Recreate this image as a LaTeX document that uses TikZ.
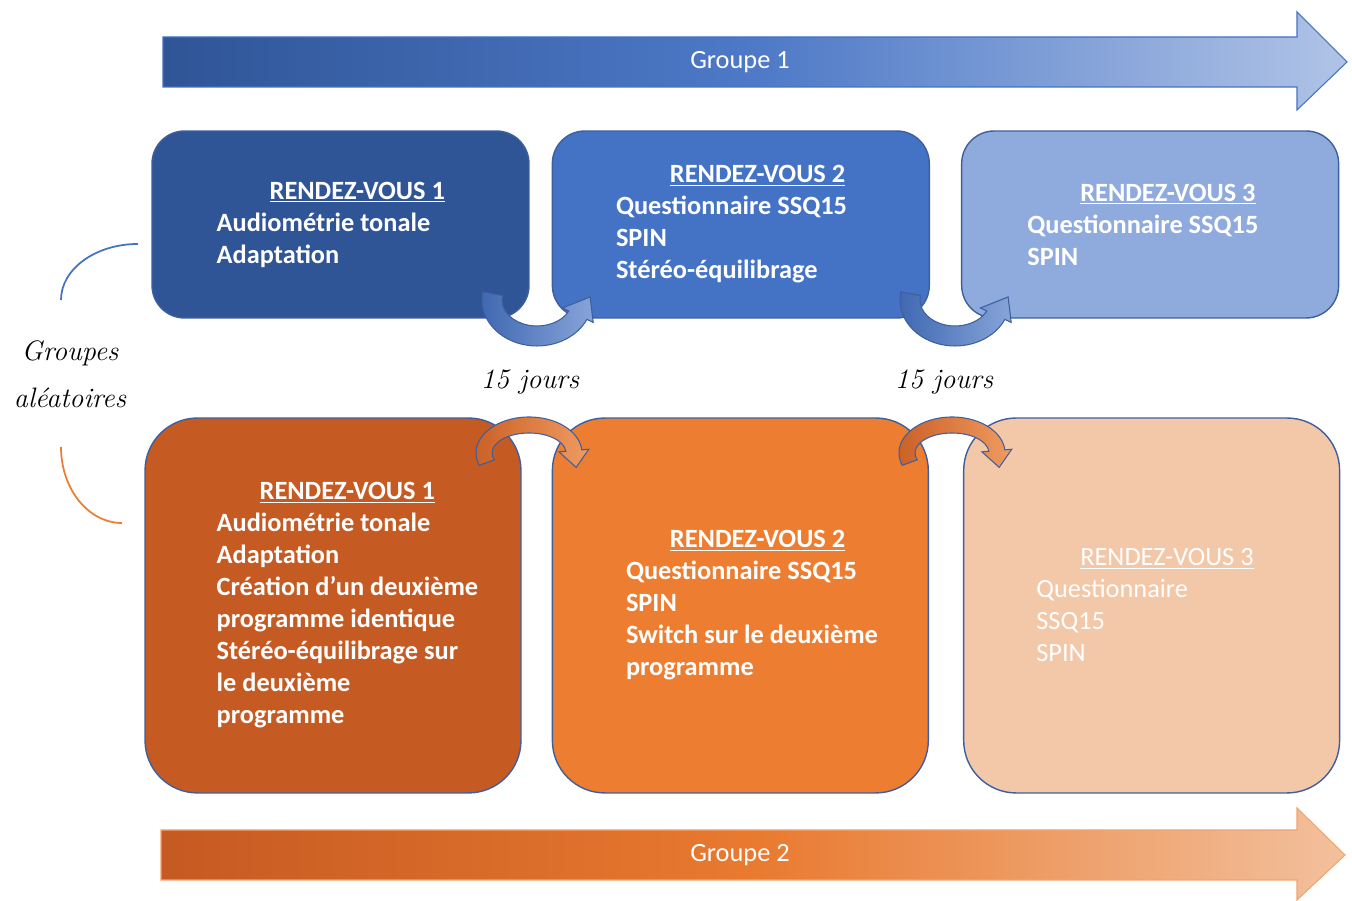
\documentclass[tikz,border=0pt]{standalone}
\usepackage{fontspec}
\newfontfamily\calib{Carlito}
\usetikzlibrary{positioning,calc}
\definecolor{bleu1}{HTML}{2F5597}
\definecolor{bleu2}{HTML}{4472C4}
\definecolor{bleu3}{HTML}{8FAADC}
\definecolor{orange1}{HTML}{C55A22}
\definecolor{orange2}{HTML}{ED7D31}
\definecolor{orange3}{HTML}{F3C8A9}
\definecolor{rdvline}{HTML}{3E5F9E}
\tikzstyle{rdv} = [draw=rdvline, line width=0.8pt]
\tikzstyle{rdvhaut} = [rdv, rounded corners=0.65cm, minimum width=7.54cm, minimum height=3.74cm]
\tikzstyle{rdvbas} = [rdv, rounded corners=1.05cm, minimum width=7.52cm, minimum height=7.5cm]
\tikzstyle{txt} = [text=white, align=left, inner sep=0pt, anchor=west, font=\calib\bfseries\fontsize{15}{18.2}\selectfont]
\tikzstyle{txtfin} = [txt, font=\calib\fontsize{15}{18.2}\selectfont]
\tikzstyle{grp} = [text=white, inner sep=0pt, font=\calib\fontsize{15}{18}\selectfont]
\tikzstyle{jours} = [inner sep=0pt, font=\itshape\addfontfeatures{Numbers=OldStyle}\fontsize{16}{20}\selectfont]
\tikzstyle{fleche1} = [draw=rdvline, line width=0.6pt, left color=bleu2!90!black, right color=bleu3!90!bleu2]
\tikzstyle{fleche2} = [draw=rdvline, line width=0.6pt, left color=orange1!90!orange2, right color=orange2!60!orange3]
\newcommand{\jourarrow}[9]{%
  \pgfmathsetmacro{\rxo}{#4+#6}\pgfmathsetmacro{\ryo}{#5+#6}%
  \pgfmathsetmacro{\rxi}{#4-#6}\pgfmathsetmacro{\ryi}{#5-#6}%
  \pgfmathsetmacro{\rxh}{#4+#6+7}\pgfmathsetmacro{\ryh}{#5+#6+7}%
  \pgfmathsetmacro{\rxk}{#4-#6-7}\pgfmathsetmacro{\ryk}{#5-#6-7}%
  \path[#9] ($(#1)+(#2:{\rxo} and {\ryo})$)
    arc[start angle=#2, end angle=#3, x radius=\rxo, y radius=\ryo]
    -- ($(#1)+(#3:{\rxh} and {\ryh})$)
    -- ($(#1)+(#3:{#4} and {#5})+(#7:#8)$)
    -- ($(#1)+(#3:{\rxk} and {\ryk})$)
    -- ($(#1)+(#3:{\rxi} and {\ryi})$)
    arc[start angle=#3, end angle=#2, x radius=\rxi, y radius=\ryi]
    -- cycle;}

\begin{document}
\begin{tikzpicture}[x=0.02cm, y=0.02cm]
\useasboundingbox (0,0) rectangle (1352,901);
\path[draw=bleu2, line width=0.6pt, left color=bleu1, right color=bleu3!70!white, middle color=bleu2!95!white]
  (163,864) -- (1297,864) -- (1297,889) -- (1347,839) -- (1297,791) -- (1297,814) -- (163,814) -- cycle;
\node[grp] (g1) at (740,839) {Groupe 1};
\path[draw=orange2!70!white, line width=0.6pt, left color=orange1, right color=orange3!90!orange2, middle color=orange2!90!orange1]
  (161,71) -- (1297,71) -- (1297,93) -- (1345,46) -- (1297,1) -- (1297,21) -- (161,21) -- cycle;
\node[grp] (g2) at (740,46) {Groupe 2};

\node[rdvhaut, fill=bleu1] (t1) at (340.5,676.5) {};
\node[rdvhaut, fill=bleu2, right=0.44cm of t1] (t2) {};
\node[rdvhaut, fill=bleu3, right=0.62cm of t2] (t3) {};
\node[rdvbas, fill=orange1] (b1) at (333,295.5) {};
\node[rdvbas, fill=orange2, right=0.6cm of b1] (b2) {};
\node[rdvbas, fill=orange3, right=0.68cm of b2] (b3) {};

\node[txt] (t1txt) at ([xshift=1.3cm]t1.west) {\hspace*{1.06cm}\underline{RENDEZ-VOUS 1}\\Audiométrie tonale\\Adaptation};
\node[txt] (t2txt) at ([xshift=1.28cm]t2.west) {\hspace*{1.08cm}\underline{RENDEZ-VOUS 2}\\Questionnaire SSQ15\\SPIN\\Stéréo-équilibrage};
\node[txt] (t3txt) at ([xshift=1.32cm]t3.west) {\hspace*{1.06cm}\underline{RENDEZ-VOUS 3}\\Questionnaire SSQ15\\SPIN};
\node[txt] (b1txt) at ([xshift=1.44cm]b1.west) {\hspace*{0.86cm}\underline{RENDEZ-VOUS 1}\\Audiométrie tonale\\Adaptation\\Création d’un deuxième\\programme identique\\Stéréo-équilibrage sur\\le deuxième\\programme};
\node[txt] (b2txt) at ([xshift=1.48cm]b2.west) {\hspace*{0.88cm}\underline{RENDEZ-VOUS 2}\\Questionnaire SSQ15\\SPIN\\Switch sur le deuxième\\programme};
\node[txtfin] (b3txt) at ([xshift=1.46cm]b3.west) {\hspace*{0.88cm}\underline{RENDEZ-VOUS 3}\\Questionnaire\\SSQ15\\SPIN};

\coordinate (ja) at (537,601);
\coordinate (jb) at (955,601);
\coordinate (jc) at (529,448);
\coordinate (jd) at (952,448);
\jourarrow{ja}{170}{335}{45}{36}{10}{56}{22}{fleche1}
\jourarrow{jb}{170}{335}{45}{36}{10}{56}{22}{fleche1}
\jourarrow{jc}{200}{5}{45}{28}{8}{-82}{17}{fleche2}
\jourarrow{jd}{200}{5}{45}{28}{8}{-82}{17}{fleche2}

\node[jours] (j1) at (530,519) {15 jours};
\node[jours] (j2) at (944,519) {15 jours};

\node[jours, align=center, font=\itshape\fontsize{16}{27}\selectfont] (alea) at (70,527) {Groupes\\aléatoires};
\draw[bleu2, line width=1pt] (138,657) arc[start angle=90, end angle=180, x radius=77, y radius=56];
\draw[orange2, line width=1pt] (61,454) arc[start angle=180, end angle=270, x radius=61, y radius=76];
\end{tikzpicture}
\end{document}
